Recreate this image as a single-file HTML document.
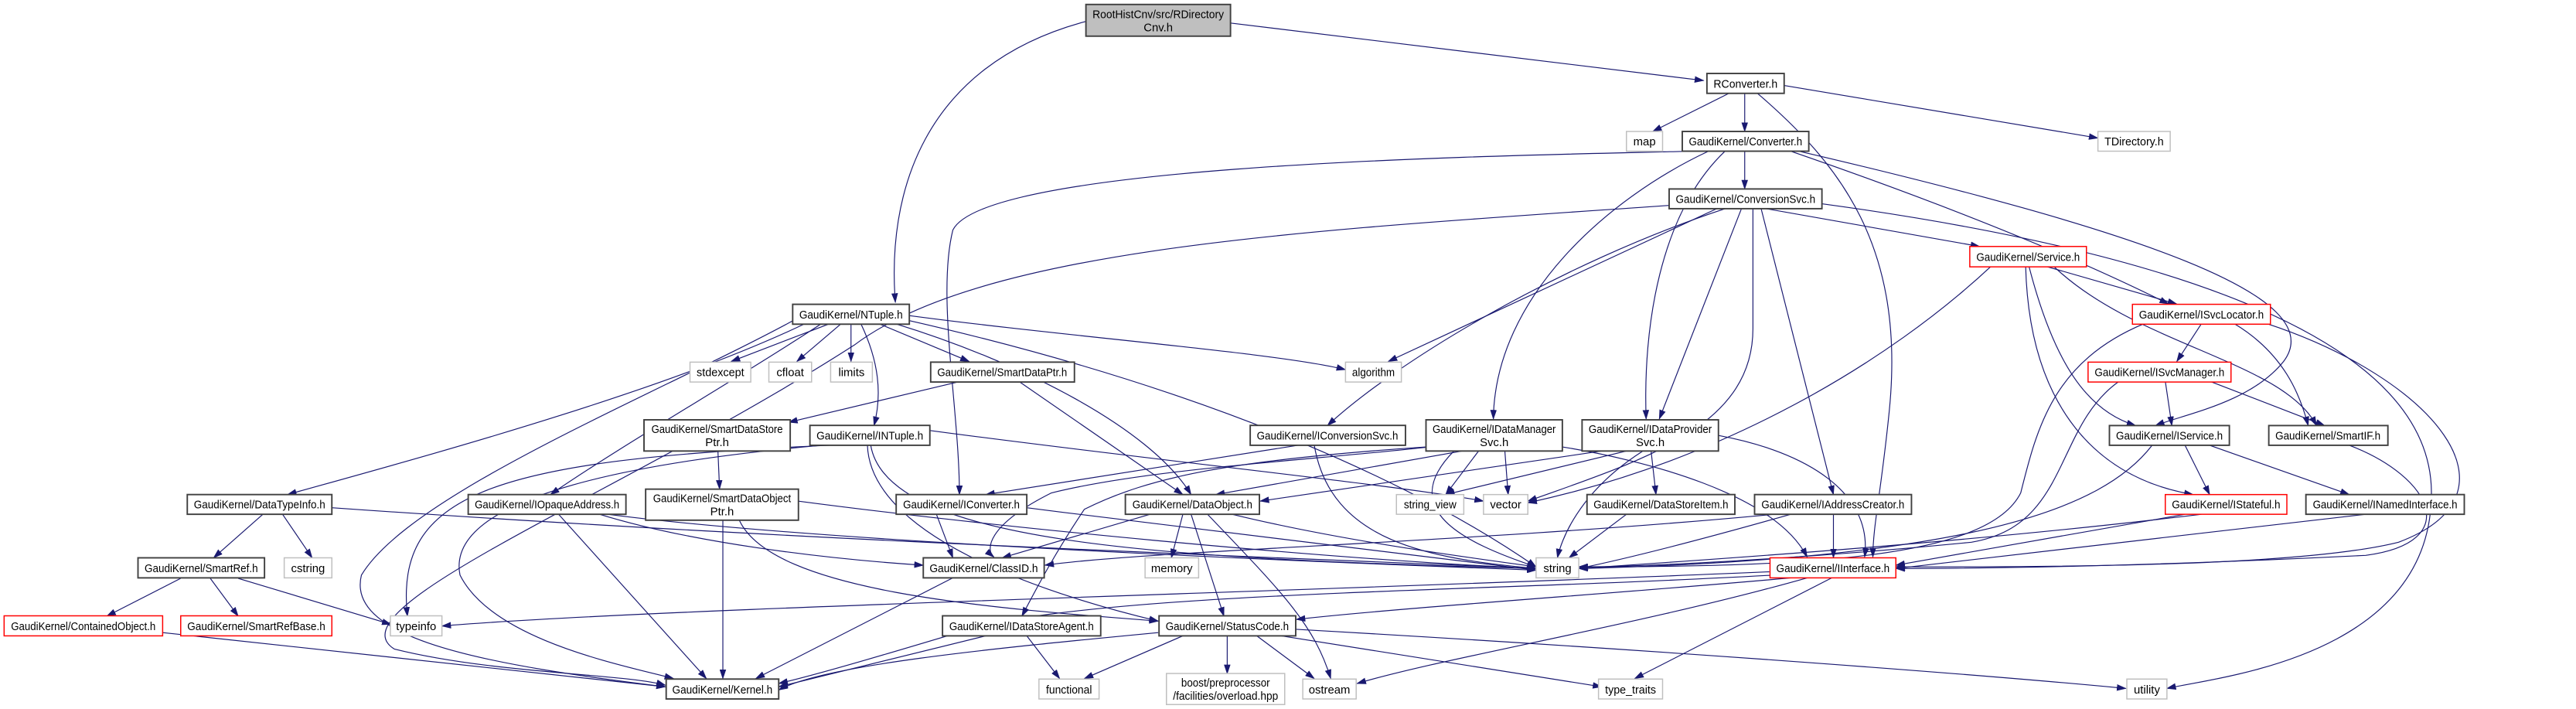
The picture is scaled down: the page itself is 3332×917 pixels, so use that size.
<!DOCTYPE html>
<html><head><meta charset="utf-8"><style>
html,body{margin:0;padding:0;background:#fff;}
svg{display:block;}
text{font-family:"Liberation Sans Narrow","Liberation Sans",sans-serif;font-size:7px;fill:#000;}
.b{fill:#fff;stroke:#404040;stroke-width:0.9}
.r{fill:#fff;stroke:#ff0000;stroke-width:0.7}
.g{fill:#fff;stroke:#bfbfbf;stroke-width:0.7}
.e path{fill:none;stroke:#191970;stroke-width:0.55}
</style></head><body>
<svg width="3332" height="917" viewBox="0 0 1568 431.5" xmlns="http://www.w3.org/2000/svg">
<defs><marker id="a" markerWidth="6" markerHeight="4" refX="5.5" refY="2" orient="auto" markerUnits="userSpaceOnUse"><path d="M0,0 L6,2 L0,4 z" fill="#191970"/></marker></defs>
<g class="e">
<path d="M749 14 L1037 49" marker-end="url(#a)"/>
<path d="M661 13 C560 40,540 120,545 184" marker-end="url(#a)"/>
<path d="M1052 57 L1006 80" marker-end="url(#a)"/>
<path d="M1062 57 L1062 80" marker-end="url(#a)"/>
<path d="M1086 52 L1277 84" marker-end="url(#a)"/>
<path d="M1070 57 C1120 100,1160 150,1150 250 C1145 300,1140 320,1140 339" marker-end="url(#a)"/>
<path d="M1062 92 L1062 115" marker-end="url(#a)"/>
<path d="M1030 92 C900 95,600 100,580 140 C570 180,584 250,584 301" marker-end="url(#a)"/>
<path d="M1040 92 C980 120,910 180,909 255" marker-end="url(#a)"/>
<path d="M1050 92 C1010 130,1000 200,1002 255" marker-end="url(#a)"/>
<path d="M1090 92 C1200 130,1270 160,1320 185" marker-end="url(#a)"/>
<path d="M1095 92 C1300 140,1420 180,1390 220 C1370 245,1330 252,1312 259" marker-end="url(#a)"/>
<path d="M1075 127 L1205 150" marker-end="url(#a)"/>
<path d="M1109 124 C1300 150,1480 200,1480 300 C1480 400,1350 412,1319 419" marker-end="url(#a)"/>
<path d="M1050 127 C950 160,850 220,808 259" marker-end="url(#a)"/>
<path d="M1045 127 L845 220" marker-end="url(#a)"/>
<path d="M1067 127 L1067 200 C1067 260,1000 280,930 305" marker-end="url(#a)"/>
<path d="M1060 127 L1010 255" marker-end="url(#a)"/>
<path d="M1072 127 L1116 301" marker-end="url(#a)"/>
<path d="M1016 125 C800 140,600 150,520 210 C380 300,200 370,240 395 C300 410,380 410,405 417" marker-end="url(#a)"/>
<path d="M1245 162 L1325 185" marker-end="url(#a)"/>
<path d="M1250 162 C1300 210,1390 220,1410 259" marker-end="url(#a)"/>
<path d="M1235 162 C1250 220,1270 250,1300 259" marker-end="url(#a)"/>
<path d="M1233 162 C1235 240,1270 290,1335 301" marker-end="url(#a)"/>
<path d="M1212 162 C1150 220,1050 280,930 306" marker-end="url(#a)"/>
<path d="M1340 197 L1325 220" marker-end="url(#a)"/>
<path d="M1360 197 C1390 215,1400 240,1405 259" marker-end="url(#a)"/>
<path d="M1305 197 C1250 220,1240 260,1230 300 C1210 340,1100 345,961 345" marker-end="url(#a)"/>
<path d="M1380 197 C1480 230,1540 300,1460 330 C1400 345,1250 345,1154 345" marker-end="url(#a)"/>
<path d="M1318 232 L1322 259" marker-end="url(#a)"/>
<path d="M1345 232 L1415 259" marker-end="url(#a)"/>
<path d="M1290 232 C1250 260,1260 320,1200 330 C1100 340,1000 345,961 345" marker-end="url(#a)"/>
<path d="M1330 271 L1345 301" marker-end="url(#a)"/>
<path d="M1345 271 L1430 301" marker-end="url(#a)"/>
<path d="M1310 271 C1280 310,1200 340,961 346" marker-end="url(#a)"/>
<path d="M1430 271 C1480 290,1500 330,1440 338 C1300 345,1200 346,1154 346" marker-end="url(#a)"/>
<path d="M1330 313 L1154 344" marker-end="url(#a)"/>
<path d="M1340 313 C1200 330,1050 340,961 346" marker-end="url(#a)"/>
<path d="M1440 313 C1300 330,1200 340,1154 346" marker-end="url(#a)"/>
<path d="M505 197 L445 220" marker-end="url(#a)"/>
<path d="M512 197 L485 220" marker-end="url(#a)"/>
<path d="M518 197 L518 220" marker-end="url(#a)"/>
<path d="M535 197 L590 220" marker-end="url(#a)"/>
<path d="M553 192 C650 205,780 215,819 225" marker-end="url(#a)"/>
<path d="M524 197 C535 220,537 240,532 259" marker-end="url(#a)"/>
<path d="M490 197 C400 240,250 280,175 301" marker-end="url(#a)"/>
<path d="M500 197 C450 230,380 270,335 301" marker-end="url(#a)"/>
<path d="M545 197 C620 220,700 260,725 301" marker-end="url(#a)"/>
<path d="M553 195 C750 240,870 300,935 345" marker-end="url(#a)"/>
<path d="M483 195 C400 240,250 300,220 350 C210 390,300 405,405 418" marker-end="url(#a)"/>
<path d="M585 232 L480 257" marker-end="url(#a)"/>
<path d="M620 232 L720 301" marker-end="url(#a)"/>
<path d="M437 274.5 L438 297.7" marker-end="url(#a)"/>
<path d="M440 316.6 L440 413" marker-end="url(#a)"/>
<path d="M450 316.6 C470 360,600 370,705 378" marker-end="url(#a)"/>
<path d="M486 305 C600 320,800 340,935 346" marker-end="url(#a)"/>
<path d="M505 271 C300 280,240 300,248 375" marker-end="url(#a)"/>
<path d="M500 271 C400 280,270 300,280 350 C300 390,380 405,410 413" marker-end="url(#a)"/>
<path d="M566 262 C700 280,850 295,903 305" marker-end="url(#a)"/>
<path d="M530 271 C540 330,700 340,935 346" marker-end="url(#a)"/>
<path d="M528 271 C530 330,650 365,705 378" marker-end="url(#a)"/>
<path d="M160 313 L130 339.5" marker-end="url(#a)"/>
<path d="M172 313 L190 339.5" marker-end="url(#a)"/>
<path d="M202 309 C500 330,800 340,935 346" marker-end="url(#a)"/>
<path d="M110 352 L65 375" marker-end="url(#a)"/>
<path d="M128 352 L145 375" marker-end="url(#a)"/>
<path d="M145 352 L238 380" marker-end="url(#a)"/>
<path d="M99 385 L405 418" marker-end="url(#a)"/>
<path d="M340 313 L430 413" marker-end="url(#a)"/>
<path d="M365 313 C420 330,500 340,562 344" marker-end="url(#a)"/>
<path d="M370 313 C500 330,800 342,935 347" marker-end="url(#a)"/>
<path d="M790 271 L600 301" marker-end="url(#a)"/>
<path d="M800 271 C810 330,870 340,935 346" marker-end="url(#a)"/>
<path d="M570 313 L580 339.5" marker-end="url(#a)"/>
<path d="M625 309 C750 325,880 340,935 347" marker-end="url(#a)"/>
<path d="M890 274.5 L740 301" marker-end="url(#a)"/>
<path d="M870 272 C800 280,700 285,640 300 C600 320,600 335,605 339" marker-end="url(#a)"/>
<path d="M900 274.5 L880 301" marker-end="url(#a)"/>
<path d="M916 274.5 L918 301" marker-end="url(#a)"/>
<path d="M885 274.5 C850 310,890 330,935 345" marker-end="url(#a)"/>
<path d="M868 272 C750 280,700 290,660 310 C640 340,630 360,622 375" marker-end="url(#a)"/>
<path d="M951 272 C1000 280,1080 300,1100 339" marker-end="url(#a)"/>
<path d="M975 274.5 L767 305" marker-end="url(#a)"/>
<path d="M990 274.5 L880 301" marker-end="url(#a)"/>
<path d="M1000 274.5 C960 300,950 330,948 339.5" marker-end="url(#a)"/>
<path d="M1005 274.5 L1008 301" marker-end="url(#a)"/>
<path d="M1046 265 C1100 275,1140 300,1135 339" marker-end="url(#a)"/>
<path d="M700 313 L610 339.5" marker-end="url(#a)"/>
<path d="M720 313 L713 339.5" marker-end="url(#a)"/>
<path d="M725 313 L745 375" marker-end="url(#a)"/>
<path d="M735 313 C780 360,800 380,810 413" marker-end="url(#a)"/>
<path d="M750 313 C820 330,900 340,935 345" marker-end="url(#a)"/>
<path d="M990 313 L955 339.5" marker-end="url(#a)"/>
<path d="M1090 313 C1030 330,990 340,961 346" marker-end="url(#a)"/>
<path d="M1116 313 L1116 339.5" marker-end="url(#a)"/>
<path d="M1080 313 C900 330,700 335,636 344" marker-end="url(#a)"/>
<path d="M580 351.7 L460 413" marker-end="url(#a)"/>
<path d="M1077 348 C800 360,400 370,269 381" marker-end="url(#a)"/>
<path d="M1090 351.7 C1000 360,850 370,789 377" marker-end="url(#a)"/>
<path d="M1080 350 C900 360,700 360,600 380 C550 395,500 410,474 416" marker-end="url(#a)"/>
<path d="M1100 351.7 C1000 380,880 400,826 416" marker-end="url(#a)"/>
<path d="M1115 351.7 L995 413" marker-end="url(#a)"/>
<path d="M600 387 L474 418" marker-end="url(#a)"/>
<path d="M625 387 L645 413" marker-end="url(#a)"/>
<path d="M705 385 C600 395,500 405,474 420" marker-end="url(#a)"/>
<path d="M720 387 L660 413" marker-end="url(#a)"/>
<path d="M747 387 L747 410" marker-end="url(#a)"/>
<path d="M765 387 L800 413" marker-end="url(#a)"/>
<path d="M780 387 L975 418" marker-end="url(#a)"/>
<path d="M789 383 C1000 395,1200 410,1294 419" marker-end="url(#a)"/>
</g>
<rect x="661" y="2.7" width="88" height="19.3" fill="#bfbfbf" stroke="#404040" stroke-width="0.9"/>
<text x="705" y="11" text-anchor="middle" textLength="80" lengthAdjust="spacingAndGlyphs">RootHistCnv/src/RDirectory</text>
<text x="705" y="19" text-anchor="middle">Cnv.h</text>

<rect class="b" x="1039" y="44.7" width="47" height="12.1"/><text x="1062.5" y="53.3" text-anchor="middle" textLength="39" lengthAdjust="spacingAndGlyphs">RConverter.h</text>
<rect class="g" x="990" y="80" width="22" height="12"/><text x="1001" y="88.5" text-anchor="middle">map</text>
<rect class="b" x="1024" y="80" width="77" height="12"/><text x="1062.5" y="88.5" text-anchor="middle" textLength="69" lengthAdjust="spacingAndGlyphs">GaudiKernel/Converter.h</text>
<rect class="g" x="1277" y="80" width="44" height="12"/><text x="1299" y="88.5" text-anchor="middle" textLength="36" lengthAdjust="spacingAndGlyphs">TDirectory.h</text>
<rect class="b" x="1016" y="115" width="93" height="12"/><text x="1062.5" y="123.5" text-anchor="middle" textLength="85" lengthAdjust="spacingAndGlyphs">GaudiKernel/ConversionSvc.h</text>
<rect class="r" x="1199" y="150" width="71" height="12.4"/><text x="1234.5" y="158.7" text-anchor="middle" textLength="63" lengthAdjust="spacingAndGlyphs">GaudiKernel/Service.h</text>
<rect class="b" x="482.5" y="185.2" width="71" height="12.1"/><text x="518" y="193.8" text-anchor="middle" textLength="63" lengthAdjust="spacingAndGlyphs">GaudiKernel/NTuple.h</text>
<rect class="r" x="1298" y="185.2" width="84" height="12.1"/><text x="1340" y="193.8" text-anchor="middle" textLength="76" lengthAdjust="spacingAndGlyphs">GaudiKernel/ISvcLocator.h</text>
<rect class="g" x="420" y="220.4" width="37" height="12.1"/><text x="438.5" y="229" text-anchor="middle" textLength="29" lengthAdjust="spacingAndGlyphs">stdexcept</text>
<rect class="g" x="468" y="220.4" width="26" height="12.1"/><text x="481" y="229" text-anchor="middle">cfloat</text>
<rect class="g" x="505.6" y="220.4" width="25.4" height="12.1"/><text x="518.3" y="229" text-anchor="middle">limits</text>
<rect class="b" x="566.5" y="220.4" width="87.5" height="12.1"/><text x="610" y="229" text-anchor="middle" textLength="79" lengthAdjust="spacingAndGlyphs">GaudiKernel/SmartDataPtr.h</text>
<rect class="g" x="819" y="220.4" width="34" height="12.1"/><text x="836" y="229" text-anchor="middle" textLength="26" lengthAdjust="spacingAndGlyphs">algorithm</text>
<rect class="r" x="1271" y="220.4" width="87" height="12.1"/><text x="1314.5" y="229" text-anchor="middle" textLength="79" lengthAdjust="spacingAndGlyphs">GaudiKernel/ISvcManager.h</text>

<rect class="b" x="392" y="255.5" width="89" height="19"/><text x="436.5" y="263.5" text-anchor="middle" textLength="80" lengthAdjust="spacingAndGlyphs">GaudiKernel/SmartDataStore</text><text x="436.5" y="271.5" text-anchor="middle">Ptr.h</text>
<rect class="b" x="493" y="258.9" width="73" height="12.1"/><text x="529.5" y="267.5" text-anchor="middle" textLength="65" lengthAdjust="spacingAndGlyphs">GaudiKernel/INTuple.h</text>
<rect class="b" x="761" y="258.9" width="94.5" height="12.1"/><text x="808" y="267.5" text-anchor="middle" textLength="86" lengthAdjust="spacingAndGlyphs">GaudiKernel/IConversionSvc.h</text>
<rect class="b" x="868" y="255.5" width="83" height="19"/><text x="909.5" y="263.5" text-anchor="middle" textLength="75" lengthAdjust="spacingAndGlyphs">GaudiKernel/IDataManager</text><text x="909.5" y="271.5" text-anchor="middle">Svc.h</text>
<rect class="b" x="963" y="255.5" width="83" height="19"/><text x="1004.5" y="263.5" text-anchor="middle" textLength="75" lengthAdjust="spacingAndGlyphs">GaudiKernel/IDataProvider</text><text x="1004.5" y="271.5" text-anchor="middle">Svc.h</text>
<rect class="b" x="1284" y="259" width="73" height="12"/><text x="1320.5" y="267.5" text-anchor="middle" textLength="65" lengthAdjust="spacingAndGlyphs">GaudiKernel/IService.h</text>
<rect class="b" x="1381" y="259" width="72.5" height="12"/><text x="1417" y="267.5" text-anchor="middle" textLength="64" lengthAdjust="spacingAndGlyphs">GaudiKernel/SmartIF.h</text>

<rect class="b" x="114" y="301" width="88" height="12"/><text x="158" y="309.5" text-anchor="middle" textLength="80" lengthAdjust="spacingAndGlyphs">GaudiKernel/DataTypeInfo.h</text>
<rect class="b" x="285" y="301" width="96" height="12"/><text x="333" y="309.5" text-anchor="middle" textLength="88" lengthAdjust="spacingAndGlyphs">GaudiKernel/IOpaqueAddress.h</text>
<rect class="b" x="393" y="297.7" width="93" height="18.9"/><text x="439.5" y="305.7" text-anchor="middle" textLength="84" lengthAdjust="spacingAndGlyphs">GaudiKernel/SmartDataObject</text><text x="439.5" y="313.7" text-anchor="middle">Ptr.h</text>
<rect class="b" x="545.5" y="301" width="79.5" height="12"/><text x="585.2" y="309.5" text-anchor="middle" textLength="71" lengthAdjust="spacingAndGlyphs">GaudiKernel/IConverter.h</text>
<rect class="b" x="685" y="301" width="81.6" height="12"/><text x="725.8" y="309.5" text-anchor="middle" textLength="73" lengthAdjust="spacingAndGlyphs">GaudiKernel/DataObject.h</text>
<rect class="g" x="850" y="301" width="41" height="12"/><text x="870.5" y="309.5" text-anchor="middle" textLength="32" lengthAdjust="spacingAndGlyphs">string_view</text>
<rect class="g" x="903" y="301" width="27" height="12"/><text x="916.5" y="309.5" text-anchor="middle">vector</text>
<rect class="b" x="966" y="301" width="90" height="12"/><text x="1011" y="309.5" text-anchor="middle" textLength="82" lengthAdjust="spacingAndGlyphs">GaudiKernel/DataStoreItem.h</text>
<rect class="b" x="1068" y="301" width="95.5" height="12"/><text x="1115.7" y="309.5" text-anchor="middle" textLength="87" lengthAdjust="spacingAndGlyphs">GaudiKernel/IAddressCreator.h</text>
<rect class="r" x="1318" y="301" width="74" height="12"/><text x="1355" y="309.5" text-anchor="middle" textLength="66" lengthAdjust="spacingAndGlyphs">GaudiKernel/IStateful.h</text>
<rect class="b" x="1403.6" y="301" width="96.4" height="12"/><text x="1451.8" y="309.5" text-anchor="middle" textLength="88" lengthAdjust="spacingAndGlyphs">GaudiKernel/INamedInterface.h</text>

<rect class="b" x="84" y="339.5" width="77" height="12.2"/><text x="122.5" y="348.2" text-anchor="middle" textLength="69" lengthAdjust="spacingAndGlyphs">GaudiKernel/SmartRef.h</text>
<rect class="g" x="173" y="339.5" width="29" height="12.2"/><text x="187.5" y="348.2" text-anchor="middle">cstring</text>
<rect class="b" x="562" y="339.5" width="73.6" height="12.2"/><text x="598.8" y="348.2" text-anchor="middle" textLength="66" lengthAdjust="spacingAndGlyphs">GaudiKernel/ClassID.h</text>
<rect class="g" x="697" y="339.5" width="32.6" height="12.2"/><text x="713.3" y="348.2" text-anchor="middle">memory</text>
<rect class="g" x="935" y="339.5" width="26" height="12.2"/><text x="948" y="348.2" text-anchor="middle">string</text>
<rect class="r" x="1077.4" y="339.5" width="76.6" height="12.2"/><text x="1115.7" y="348.2" text-anchor="middle" textLength="69" lengthAdjust="spacingAndGlyphs">GaudiKernel/IInterface.h</text>

<rect class="r" x="2.5" y="374.8" width="96.5" height="12.2"/><text x="50.7" y="383.5" text-anchor="middle" textLength="88" lengthAdjust="spacingAndGlyphs">GaudiKernel/ContainedObject.h</text>
<rect class="r" x="110" y="374.8" width="92" height="12.2"/><text x="156" y="383.5" text-anchor="middle" textLength="84" lengthAdjust="spacingAndGlyphs">GaudiKernel/SmartRefBase.h</text>
<rect class="g" x="237.6" y="374.8" width="31.4" height="12.2"/><text x="253.3" y="383.5" text-anchor="middle">typeinfo</text>
<rect class="b" x="573.7" y="374.8" width="96.3" height="12.2"/><text x="621.8" y="383.5" text-anchor="middle" textLength="88" lengthAdjust="spacingAndGlyphs">GaudiKernel/IDataStoreAgent.h</text>
<rect class="b" x="705.5" y="374.8" width="83.2" height="12.2"/><text x="747" y="383.5" text-anchor="middle" textLength="75" lengthAdjust="spacingAndGlyphs">GaudiKernel/StatusCode.h</text>

<rect class="b" x="405.5" y="413.3" width="68.5" height="12.1"/><text x="439.7" y="422" text-anchor="middle" textLength="61" lengthAdjust="spacingAndGlyphs">GaudiKernel/Kernel.h</text>
<rect class="g" x="632.4" y="413.3" width="36.6" height="12.1"/><text x="650.7" y="422" text-anchor="middle" textLength="28" lengthAdjust="spacingAndGlyphs">functional</text>
<rect class="g" x="710" y="409.9" width="72" height="18.9"/><text x="746" y="417.8" text-anchor="middle" textLength="54" lengthAdjust="spacingAndGlyphs">boost/preprocessor</text><text x="746" y="425.8" text-anchor="middle" textLength="64" lengthAdjust="spacingAndGlyphs">/facilities/overload.hpp</text>
<rect class="g" x="793" y="413.3" width="32.5" height="12.1"/><text x="809.2" y="422" text-anchor="middle">ostream</text>
<rect class="g" x="973" y="413.3" width="39" height="12.1"/><text x="992.5" y="422" text-anchor="middle" textLength="31" lengthAdjust="spacingAndGlyphs">type_traits</text>
<rect class="g" x="1294.6" y="413.3" width="24.4" height="12.1"/><text x="1306.8" y="422" text-anchor="middle">utility</text>
</svg>
</body></html>
